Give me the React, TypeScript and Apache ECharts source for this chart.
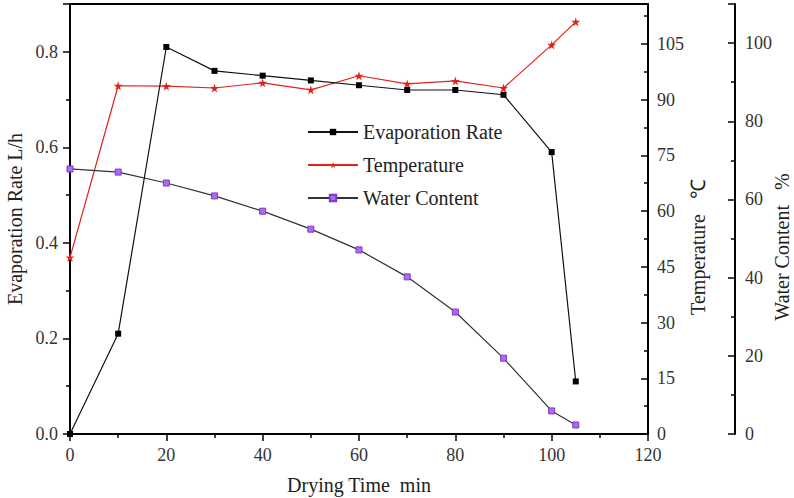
import React, { useEffect, useRef } from "react";
import * as echarts from "echarts";

const times = [0, 10, 20, 30, 40, 50, 60, 70, 80, 90, 100, 105];
const evaporation = [0, 0.21, 0.81, 0.76, 0.75, 0.74, 0.73, 0.72, 0.72, 0.71, 0.59, 0.11];
const temperature = [47.5, 93.7, 93.6, 93.1, 94.5, 92.6, 96.4, 94.2, 95.0, 93.1, 104.7, 110.9];
const waterContent = [67.8, 67.0, 64.2, 60.9, 57.0, 52.4, 47.1, 40.2, 31.2, 19.4, 5.9, 2.3];
const seriesNames = ["Evaporation Rate", "Temperature", "Water Content"];

const FONT = "Liberation Serif";
const STAR =
  "path://M50,0 L61,35 L98,35 L68,57 L79,91 L50,70 L21,91 L32,57 L2,35 L39,35 Z";

export default function App() {
  const ref = useRef<HTMLDivElement>(null);
  useEffect(() => {
    if (!ref.current) return;
    const chart = echarts.init(ref.current, null, { renderer: "svg" });
    const labelStyle = { fontFamily: FONT, fontSize: 18, color: "#333" };
    const nameStyle = { fontFamily: FONT, fontSize: 20, color: "#222" };
    const line = { lineStyle: { color: "#000", width: 2 } };
    const tick = { color: "#000", width: 1.5 };
    chart.setOption({
      animation: false,
      backgroundColor: "#fff",
      grid: {
        left: 70,
        right: 146,
        top: 4,
        bottom: 64,
        show: true,
        borderColor: "#000",
        borderWidth: 2,
        backgroundColor: "transparent",
        containLabel: false,
        outerBoundsMode: "none",
      },
      legend: {
        orient: "vertical",
        left: 302,
        top: 117,
        itemWidth: 50,
        itemHeight: 8,
        itemGap: 13,
        textStyle: { fontFamily: FONT, fontSize: 20, color: "#222" },
        data: seriesNames,
      },
      xAxis: {
        type: "value",
        min: 0,
        max: 120,
        interval: 20,
        name: "Drying Time  min",
        nameLocation: "middle",
        nameGap: 41,
        nameMoveOverlap: false,
        nameTextStyle: nameStyle,
        axisLine: line,
        axisTick: { show: true, length: 7, lineStyle: tick },
        minorTick: { show: true, splitNumber: 2, length: 4, lineStyle: tick },
        axisLabel: { ...labelStyle, margin: 12 },
        splitLine: { show: false },
      },
      yAxis: [
        {
          type: "value",
          min: 0,
          max: 0.9,
          interval: 0.2,
          position: "left",
          name: "Evaporation Rate L/h",
          nameLocation: "middle",
          nameGap: 45,
          nameMoveOverlap: false,
          nameTextStyle: nameStyle,
          axisLine: { show: true, ...line },
          axisTick: { show: true, length: 7, lineStyle: tick },
          minorTick: { show: true, splitNumber: 2, length: 4, lineStyle: tick },
          axisLabel: {
            ...labelStyle,
            margin: 12,
            showMaxLabel: false,
            formatter: (v: number) => v.toFixed(1),
          },
          splitLine: { show: false },
        },
        {
          type: "value",
          min: 0,
          max: 115.7,
          interval: 15,
          position: "right",
          offset: 0,
          name: "Temperature   \u2103",
          nameLocation: "middle",
          nameGap: 40,
          nameMoveOverlap: false,
          nameTextStyle: { ...nameStyle, padding: [0, 56, 0, 0] },
          axisLine: { show: true, ...line },
          axisTick: { show: true, inside: true, length: 7, lineStyle: tick },
          minorTick: { show: true, splitNumber: 2, length: 4, lineStyle: tick },
          axisLabel: { ...labelStyle, margin: 9, showMaxLabel: false },
          splitLine: { show: false },
        },
        {
          type: "value",
          min: 0,
          max: 110,
          interval: 20,
          position: "right",
          offset: 87,
          name: "Water Content   %",
          nameLocation: "middle",
          nameGap: 37,
          nameMoveOverlap: false,
          nameTextStyle: { ...nameStyle, padding: [0, 56, 0, 0] },
          axisLine: { show: true, ...line },
          axisTick: { show: true, inside: true, length: 7, lineStyle: tick },
          minorTick: { show: true, splitNumber: 2, length: 4, lineStyle: tick },
          axisLabel: { ...labelStyle, margin: 10, showMaxLabel: false },
          splitLine: { show: false },
        },
      ],
      series: [
        {
          name: seriesNames[0],
          type: "line",
          yAxisIndex: 0,
          symbol: "rect",
          symbolSize: 6,
          itemStyle: { color: "#000" },
          lineStyle: { color: "#111", width: 1.2 },
          data: times.map((t, i) => [t, evaporation[i]]),
          z: 3,
        },
        {
          name: seriesNames[1],
          type: "line",
          yAxisIndex: 1,
          symbol: STAR,
          symbolSize: 9,
          itemStyle: { color: "#e0241b" },
          lineStyle: { color: "#e0241b", width: 1.2 },
          data: times.map((t, i) => [t, temperature[i]]),
          z: 2,
        },
        {
          name: seriesNames[2],
          type: "line",
          yAxisIndex: 2,
          symbol: "rect",
          symbolSize: 6,
          itemStyle: { color: "#b366f0", borderColor: "#7a3cc0", borderWidth: 1 },
          lineStyle: { color: "#333", width: 1.2 },
          data: times.map((t, i) => [t, waterContent[i]]),
          z: 2,
        },
      ],
    });
    return () => chart.dispose();
  }, []);
  return <div ref={ref} style={{ width: 794, height: 498, position: "absolute", left: 0, top: 0 }} />;
}
